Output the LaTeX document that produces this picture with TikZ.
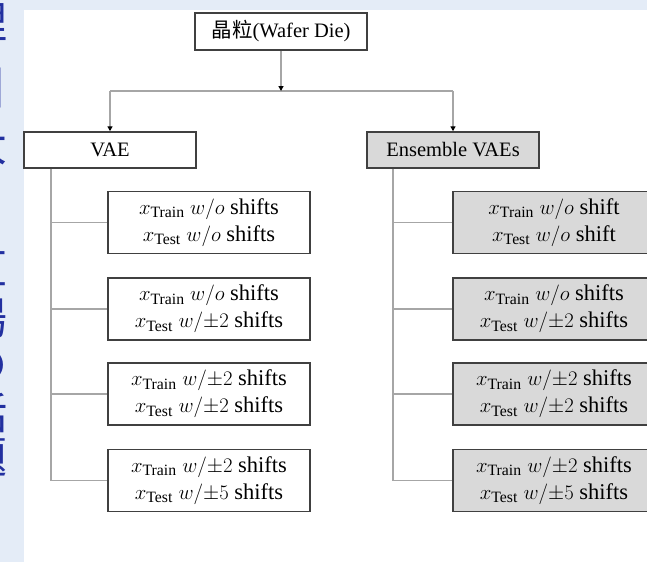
\documentclass[tikz,border=0pt]{standalone}
\usepackage{fontspec}
\usepackage{amsmath}
\setmainfont{Liberation Serif}
\newfontfamily\cjk{Noto Sans CJK SC}
\newfontfamily\cjkjp{Noto Sans CJK JP}
\usetikzlibrary{arrows.meta}
\definecolor{bgblue}{HTML}{E4ECF7}
\definecolor{stripblue}{HTML}{2230A0}
\definecolor{conngray}{HTML}{A6A6A6}
\definecolor{bordergray}{HTML}{404040}
\definecolor{fillgray}{HTML}{D9D9D9}
\begin{document}
\begin{tikzpicture}[x=1pt,y=-1pt,
  basebox/.style={draw=bordergray, line width=1.5pt, fill=white, inner sep=0pt, align=center},
  headbox/.style={basebox, minimum width=172pt, minimum height=36pt, font=\fontsize{20.5}{22}\selectfont},
  leafbox/.style={basebox, minimum width=202pt, minimum height=62pt, font=\fontsize{22.5}{27}\selectfont},
  grayed/.style={fill=fillgray},
  link/.style={draw=conngray, line width=1.4pt},
  arrowed/.style={-{Triangle[length=5pt,width=5pt,color=black]}},
  frag/.style={text=stripblue, font=\cjkjp\fontsize{44}{44}\selectfont, inner sep=0pt}
]
\useasboundingbox (0,0) rectangle (647,562);
\fill[bgblue] (0,0) rectangle (647,562);
\fill[white] (24,10) rectangle (647,562);

% clipped caption fragments on the left strip
\begin{scope}
\clip (0,0) rectangle (24,562);
\node[frag] (f1) at (-14,22) {理};
\node[frag] (f2) at (-14,88) {引};
\node[frag] (f3) at (-14,145) {大};
\node[frag] (f4) at (-14,268) {直};
\node[frag] (f5) at (-14,318) {場};
\node[frag] (f6) at (-14,365) {の};
\node[frag] (f7) at (-14,413) {話};
\node[frag] (f8) at (-14,458) {題};
\end{scope}

% top
\node[headbox, minimum height=37pt] (die) at (281,31.5) {{\cjk 晶粒}(Wafer Die)};
\node[headbox] (vae) at (110,150) {VAE};
\node[headbox, grayed] (ens) at (453,150) {Ensemble VAEs};

\coordinate (mid) at (281,91);
\coordinate (jl) at (110,91);
\coordinate (jr) at (453,91);
\draw[link] (jl) -- (jr);
\draw[link, arrowed] (die) -- (mid);
\draw[link, arrowed] (jl) -- (vae);
\draw[link, arrowed] (jr) -- (ens);

% left leaves
\node[leafbox] (l1) at (209,222.5) {$x_{\text{Train}}\ w/o$ shifts\\ $x_{\text{Test}}\ w/o$ shifts};
\node[leafbox] (l2) at (209,309) {$x_{\text{Train}}\ w/o$ shifts\\ $x_{\text{Test}}\ w/{\pm}2$ shifts};
\node[leafbox] (l3) at (209,394) {$x_{\text{Train}}\ w/{\pm}2$ shifts\\ $x_{\text{Test}}\ w/{\pm}2$ shifts};
\node[leafbox] (l4) at (209,480.5) {$x_{\text{Train}}\ w/{\pm}2$ shifts\\ $x_{\text{Test}}\ w/{\pm}5$ shifts};

% right leaves
\node[leafbox, grayed] (r1) at (554,222.5) {$x_{\text{Train}}\ w/o$ shift\\ $x_{\text{Test}}\ w/o$ shift};
\node[leafbox, grayed] (r2) at (554,309) {$x_{\text{Train}}\ w/o$ shifts\\ $x_{\text{Test}}\ w/{\pm}2$ shifts};
\node[leafbox, grayed] (r3) at (554,394) {$x_{\text{Train}}\ w/{\pm}2$ shifts\\ $x_{\text{Test}}\ w/{\pm}2$ shifts};
\node[leafbox, grayed] (r4) at (554,480.5) {$x_{\text{Train}}\ w/{\pm}2$ shifts\\ $x_{\text{Test}}\ w/{\pm}5$ shifts};

% left stem
\coordinate (sl) at (51,480.5);
\draw[link] (vae.south -| sl) -- (sl) -- (l4);
\draw[link] (sl |- l1) -- (l1);
\draw[link] (sl |- l2) -- (l2);
\draw[link] (sl |- l3) -- (l3);

% right stem
\coordinate (sr) at (393,480.5);
\draw[link] (ens.south -| sr) -- (sr) -- (r4);
\draw[link] (sr |- r1) -- (r1);
\draw[link] (sr |- r2) -- (r2);
\draw[link] (sr |- r3) -- (r3);
\end{tikzpicture}
\end{document}
